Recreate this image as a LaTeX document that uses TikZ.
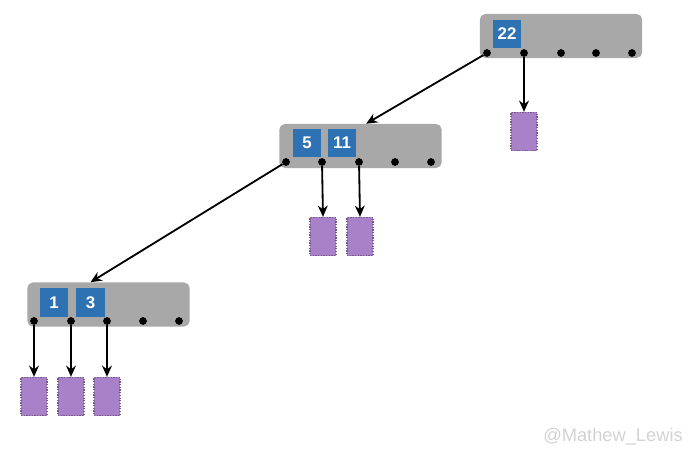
\documentclass[tikz,border=0pt]{standalone}
\usepackage{fontspec}
\setmainfont{Liberation Sans}
\usetikzlibrary{arrows.meta,calc}
\definecolor{nodegray}{HTML}{A8A8A8}
\definecolor{keyblue}{HTML}{2F72B4}
\definecolor{leafpurple}{HTML}{A881C8}
\definecolor{markgray}{HTML}{D2D2D2}
\tikzset{
  bnode/.style={fill=nodegray, rounded corners=4pt, minimum width=4.06cm, minimum height=1.1cm, inner sep=0pt},
  keybox/.style={fill=keyblue, text=white, font=\bfseries\large, minimum size=0.72cm, inner sep=0pt},
  ptr/.style={circle, fill=black, inner sep=0pt, minimum size=5.5pt},
  leaf/.style={fill=leafpurple, draw=leafpurple!70!black, densely dotted, line width=0.9pt, minimum width=0.65cm, minimum height=0.95cm, inner sep=0pt},
  link/.style={line width=1.3pt, -{Stealth[length=8pt,width=7pt]}}
}
\begin{document}
\begin{tikzpicture}[x=0.025cm, y=-0.025cm]
\useasboundingbox (0,0) rectangle (690,453);
% root
\node[bnode] (n1) at (561,36) {};
\node[keybox] (n1k22) at (507,34) {22};
\foreach \i/\x in {0/487,1/524,2/561,3/596,4/632}
  \node[ptr] (n1p\i) at (\x,53) {};
% middle
\node[bnode] (n2) at (360.5,146) {};
\node[keybox] (n2k5) at (307,143) {5};
\node[keybox] (n2k11) at (342,143) {11};
\foreach \i/\x in {0/286,1/322,2/359,3/395,4/431}
  \node[ptr] (n2p\i) at (\x,162) {};
% leaf level
\node[bnode] (n3) at (108.5,304.5) {};
\node[keybox] (n3k1) at (54,302.5) {1};
\node[keybox] (n3k3) at (90.5,302.5) {3};
\foreach \i/\x in {0/34,1/71,2/107,3/143,4/179}
  \node[ptr] (n3p\i) at (\x,321) {};
% data pages
\node[leaf] (d1) at (524,131.5) {};
\node[leaf] (d2) at (323,236.5) {};
\node[leaf] (d3) at (360,236.5) {};
\node[leaf] (d4) at (34,396.5) {};
\node[leaf] (d5) at (71,396.5) {};
\node[leaf] (d6) at (107,396.5) {};
% pointers
\draw[link] (n1p0) -- ([xshift=0.14cm]n2.north);
\draw[link] (n1p1) -- (d1.north);
\draw[link] (n2p0) -- (n3k3.north |- n3.north);
\draw[link] (n2p1) -- (d2.north);
\draw[link] (n2p2) -- (d3.north);
\draw[link] (n3p0) -- (d4.north);
\draw[link] (n3p1) -- (d5.north);
\draw[link] (n3p2) -- (d6.north);
\node[text=markgray, font=\fontsize{13}{16}\selectfont, anchor=east, inner sep=0pt] (mark) at (683,437) {@Mathew\_Lewis};
\end{tikzpicture}
\end{document}
